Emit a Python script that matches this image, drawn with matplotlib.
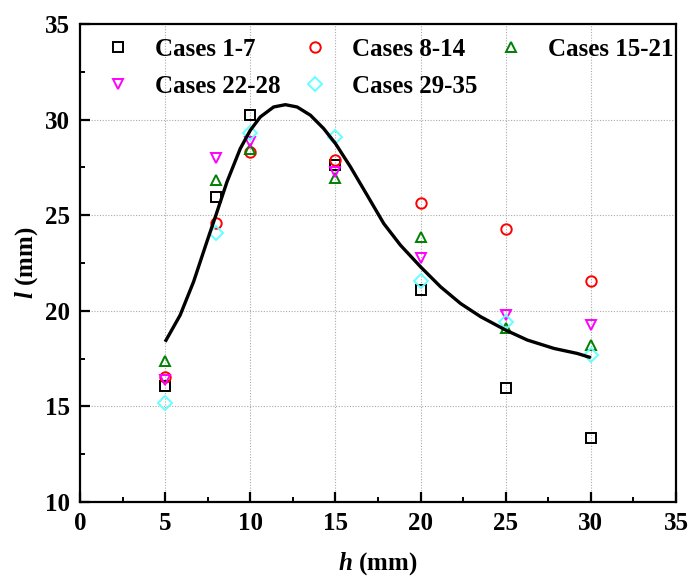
import matplotlib
matplotlib.use("Agg")
import matplotlib.pyplot as plt
from matplotlib.ticker import MultipleLocator

plt.rcParams['font.family'] = ['Liberation Serif', 'DejaVu Serif']
plt.rcParams['font.weight'] = 'bold'
plt.rcParams['mathtext.fontset'] = 'custom'
plt.rcParams['mathtext.it'] = 'Liberation Serif:italic:bold'
plt.rcParams['mathtext.rm'] = 'Liberation Serif:bold'

h = [5, 8, 10, 15, 20, 25, 30]
cases_1_7 = [16.07, 25.97, 30.24, 27.65, 21.09, 15.98, 13.33]
cases_8_14 = [16.55, 24.57, 28.32, 27.89, 25.62, 24.28, 21.56]
cases_15_21 = [17.37, 26.84, 28.45, 26.93, 23.88, 19.08, 18.21]
cases_22_28 = [16.40, 27.98, 28.84, 27.27, 22.75, 19.78, 19.26]
cases_29_35 = [15.20, 24.05, 29.31, 29.10, 21.58, 19.43, 17.69]

fit_h = [5.00, 5.88, 6.67, 7.45, 7.98, 8.63, 9.41, 10.00, 10.59, 11.37, 12.06,
         12.75, 13.53, 14.31, 15.00, 15.88, 16.86, 17.84, 18.82, 20.00, 21.18,
         22.35, 23.53, 25.00, 26.27, 27.84, 29.20, 30.00]
fit_l = [18.38, 19.77, 21.52, 23.61, 25.00, 26.74, 28.48, 29.44, 30.14, 30.66, 30.78,
         30.66, 30.23, 29.53, 28.75, 27.53, 26.05, 24.56, 23.43, 22.30, 21.25,
         20.38, 19.69, 18.99, 18.47, 18.03, 17.77, 17.55]

series = [
    (cases_1_7, 's', 'black', 'Cases 1-7'),
    (cases_8_14, 'o', 'red', 'Cases 8-14'),
    (cases_15_21, '^', 'green', 'Cases 15-21'),
    (cases_22_28, 'v', 'magenta', 'Cases 22-28'),
    (cases_29_35, 'D', '#66FFFF', 'Cases 29-35'),
]

FS = 18

fig = plt.figure(figsize=(6.88, 5.79), dpi=100)
ax = fig.add_axes([80/688, 1 - 502/579, (676-80)/688, (502-24)/579])

handles = []
for vals, m, c, lab in series:
    ms = 7.5 if m != 'D' else 6.8
    ln, = ax.plot(h, vals, linestyle='none', marker=m, markersize=ms, markerfacecolor='none',
                  markeredgecolor=c, markeredgewidth=1.4, label=lab, zorder=3)
    handles.append(ln)

ax.plot(fit_h, fit_l, color='black', linewidth=2.4, zorder=4,
        solid_capstyle='butt', solid_joinstyle='round')

ax.set_xlim(0, 35)
ax.set_ylim(10, 35)
ax.xaxis.set_major_locator(MultipleLocator(5))
ax.xaxis.set_minor_locator(MultipleLocator(2.5))
ax.yaxis.set_major_locator(MultipleLocator(5))
ax.yaxis.set_minor_locator(MultipleLocator(2.5))

for x in [5, 10, 15, 20, 25, 30]:
    ax.axvline(x, color='#aaaaaa', linewidth=0.8, linestyle=(0, (1, 1.5)), zorder=1)
for y in [15, 20, 25, 30]:
    ax.axhline(y, color='#aaaaaa', linewidth=0.8, linestyle=(0, (1, 1.5)), zorder=1)

ax.tick_params(which='major', direction='in', length=7, width=1.6, labelsize=FS,
               top=False, right=False, pad=7)
ax.tick_params(which='minor', direction='in', length=3.5, width=1.4, top=False, right=False)
for s in ax.spines.values():
    s.set_linewidth(1.6)
for lbl in ax.get_xticklabels() + ax.get_yticklabels():
    lbl.set_fontweight('bold')

ax.set_xlabel(r'$\mathit{h}$ (mm)', fontsize=FS, fontweight='bold', labelpad=11)
ax.set_ylabel(r'$\mathit{l}$ (mm)', fontsize=FS, fontweight='bold', labelpad=4)

order = [0, 3, 1, 4, 2]
leg = ax.legend([handles[i] for i in order], [series[i][3] for i in order],
                loc='upper left', ncol=3, frameon=False, fontsize=FS,
                handlelength=1.0, handletextpad=0.98,
                columnspacing=0.86, borderaxespad=0.0, borderpad=0.4,
                labelspacing=0.56, bbox_to_anchor=(0.026, 0.992))
for t in leg.get_texts():
    t.set_fontweight('bold')

fig.savefig('out.png', dpi=100)
